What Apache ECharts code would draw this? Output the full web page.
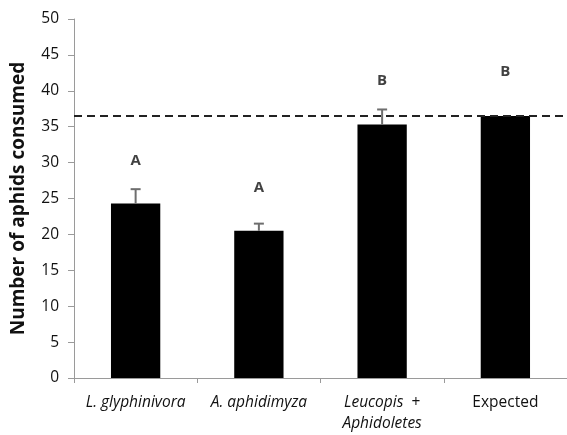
<!DOCTYPE html>
<html><head><meta charset="utf-8">
<script src="https://cdn.jsdelivr.net/npm/echarts@6/dist/echarts.min.js"></script>
<style>html,body{margin:0;padding:0;background:#fff}#c{width:567px;height:435px}</style>
</head><body><div id="c"></div>
<script>
const categories = ['L. glyphinivora', 'A. aphidimyza', 'Leucopis + Aphidoletes', 'Expected'];
const means = [24.3, 20.5, 35.3, 36.5];
const errorTops = [26.3, 21.5, 37.4, null];
const letters = ['A', 'A', 'B', 'B'];
const letterHeights = [30.2, 26.5, 41.4, 42.6];
const expectedLine = 36.5;
const yTicks = [0, 5, 10, 15, 20, 25, 30, 35, 40, 45, 50];

const chart = echarts.init(document.getElementById('c'));
const font = '"Open Sans", "Liberation Sans", sans-serif';
chart.setOption({
  animation: false,
  grid: {left: 74, right: 0, top: 19, bottom: 57, containLabel: false, outerBoundsMode: 'none'},
  xAxis: {
    type: 'category', data: categories, boundaryGap: true,
    axisLine: {lineStyle: {color: '#9a9a9a', width: 1}},
    axisTick: {show: true, length: 5, lineStyle: {color: '#9a9a9a'}},
    axisLabel: {
      interval: 0, margin: 14, color: '#111', fontSize: 15.5, fontFamily: font, lineHeight: 21,
      formatter: function (v) {
        if (v === 'Leucopis + Aphidoletes') return '{i|Leucopis}{n|  +}\n{i|Aphidoletes}';
        if (v === 'Expected') return '{n|Expected}';
        return '{i|' + v + '}';
      },
      rich: {
        i: {fontStyle: 'italic', fontSize: 15.5, fontFamily: font, color: '#111', lineHeight: 21},
        n: {fontSize: 15.5, fontFamily: font, color: '#111', lineHeight: 21}
      }
    }
  },
  yAxis: {
    type: 'value', min: yTicks[0], max: yTicks[yTicks.length - 1], interval: 5,
    name: 'Number of aphids consumed', nameLocation: 'middle', nameGap: 46,
    nameTextStyle: {fontSize: 19, fontWeight: 'bold', fontFamily: font, color: '#111'},
    axisLine: {show: true, lineStyle: {color: '#9a9a9a'}},
    axisTick: {show: true, length: 6, lineStyle: {color: '#9a9a9a'}},
    axisLabel: {fontSize: 15.5, fontFamily: font, color: '#111', margin: 15},
    splitLine: {show: false}
  },
  series: [
    {
      type: 'bar', data: means, barWidth: '40%',
      itemStyle: {color: '#000'},
      markLine: {
        silent: true, symbol: 'none', label: {show: false},
        lineStyle: {color: '#222', type: [8, 5], width: 2},
        data: [{yAxis: expectedLine}]
      },
      z: 2
    },
    {
      type: 'custom', z: 3,
      data: means.map((m, i) => [i, m, errorTops[i]]).filter(d => d[2] != null),
      renderItem: function (params, api) {
        const base = api.coord([api.value(0), api.value(1)]);
        const top = api.coord([api.value(0), api.value(2)]);
        const style = {stroke: '#6e6e6e', lineWidth: 2};
        return {type: 'group', children: [
          {type: 'line', shape: {x1: base[0], y1: base[1], x2: top[0], y2: top[1]}, style: style},
          {type: 'line', shape: {x1: top[0] - 5, y1: top[1], x2: top[0] + 5, y2: top[1]}, style: style}
        ]};
      }
    },
    {
      type: 'scatter', symbolSize: 0, z: 4,
      data: letterHeights.map((h, i) => ({value: [i, h], name: letters[i]})),
      label: {show: true, position: 'inside', formatter: p => p.name,
        fontSize: 15, fontWeight: 'bold', fontFamily: font, color: '#111'}
    }
  ]
});
</script></body></html>
